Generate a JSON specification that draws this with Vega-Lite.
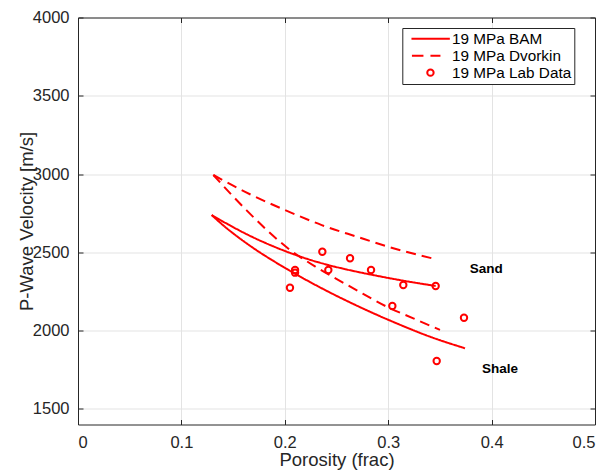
{
  "$schema": "https://vega.github.io/schema/vega-lite/v6.json",
  "autosize": "none",
  "width": 517,
  "height": 407,
  "padding": {"left": 78, "top": 17.5, "right": 14, "bottom": 46.5},
  "background": "white",
  "datasets": {
    "curves": [
      {"s": "BAM Sand", "grp": "19 MPa BAM", "x": 0.1293, "y": 2738},
      {"s": "BAM Sand", "grp": "19 MPa BAM", "x": 0.145, "y": 2679},
      {"s": "BAM Sand", "grp": "19 MPa BAM", "x": 0.163, "y": 2616},
      {"s": "BAM Sand", "grp": "19 MPa BAM", "x": 0.185, "y": 2549},
      {"s": "BAM Sand", "grp": "19 MPa BAM", "x": 0.208, "y": 2489},
      {"s": "BAM Sand", "grp": "19 MPa BAM", "x": 0.225, "y": 2451},
      {"s": "BAM Sand", "grp": "19 MPa BAM", "x": 0.242, "y": 2419},
      {"s": "BAM Sand", "grp": "19 MPa BAM", "x": 0.26, "y": 2390},
      {"s": "BAM Sand", "grp": "19 MPa BAM", "x": 0.283, "y": 2358},
      {"s": "BAM Sand", "grp": "19 MPa BAM", "x": 0.31, "y": 2324},
      {"s": "BAM Sand", "grp": "19 MPa BAM", "x": 0.3459, "y": 2285},
      {"s": "BAM Shale", "grp": "19 MPa BAM", "x": 0.1293, "y": 2738},
      {"s": "BAM Shale", "grp": "19 MPa BAM", "x": 0.1405, "y": 2672},
      {"s": "BAM Shale", "grp": "19 MPa BAM", "x": 0.1631, "y": 2557},
      {"s": "BAM Shale", "grp": "19 MPa BAM", "x": 0.1954, "y": 2419},
      {"s": "BAM Shale", "grp": "19 MPa BAM", "x": 0.2244, "y": 2310},
      {"s": "BAM Shale", "grp": "19 MPa BAM", "x": 0.2437, "y": 2243},
      {"s": "BAM Shale", "grp": "19 MPa BAM", "x": 0.2759, "y": 2140},
      {"s": "BAM Shale", "grp": "19 MPa BAM", "x": 0.3082, "y": 2046},
      {"s": "BAM Shale", "grp": "19 MPa BAM", "x": 0.3404, "y": 1961},
      {"s": "BAM Shale", "grp": "19 MPa BAM", "x": 0.3743, "y": 1887},
      {"s": "Dvorkin Sand", "grp": "19 MPa Dvorkin", "x": 0.1309, "y": 2994},
      {"s": "Dvorkin Sand", "grp": "19 MPa Dvorkin", "x": 0.1663, "y": 2871},
      {"s": "Dvorkin Sand", "grp": "19 MPa Dvorkin", "x": 0.2002, "y": 2770},
      {"s": "Dvorkin Sand", "grp": "19 MPa Dvorkin", "x": 0.2357, "y": 2674},
      {"s": "Dvorkin Sand", "grp": "19 MPa Dvorkin", "x": 0.2695, "y": 2600},
      {"s": "Dvorkin Sand", "grp": "19 MPa Dvorkin", "x": 0.3049, "y": 2526},
      {"s": "Dvorkin Sand", "grp": "19 MPa Dvorkin", "x": 0.3453, "y": 2457},
      {"s": "Dvorkin Shale", "grp": "19 MPa Dvorkin", "x": 0.1309, "y": 2994},
      {"s": "Dvorkin Shale", "grp": "19 MPa Dvorkin", "x": 0.147, "y": 2878},
      {"s": "Dvorkin Shale", "grp": "19 MPa Dvorkin", "x": 0.1631, "y": 2768},
      {"s": "Dvorkin Shale", "grp": "19 MPa Dvorkin", "x": 0.1825, "y": 2643},
      {"s": "Dvorkin Shale", "grp": "19 MPa Dvorkin", "x": 0.2018, "y": 2532},
      {"s": "Dvorkin Shale", "grp": "19 MPa Dvorkin", "x": 0.234, "y": 2391},
      {"s": "Dvorkin Shale", "grp": "19 MPa Dvorkin", "x": 0.2663, "y": 2270},
      {"s": "Dvorkin Shale", "grp": "19 MPa Dvorkin", "x": 0.2985, "y": 2153},
      {"s": "Dvorkin Shale", "grp": "19 MPa Dvorkin", "x": 0.3243, "y": 2078},
      {"s": "Dvorkin Shale", "grp": "19 MPa Dvorkin", "x": 0.3501, "y": 2004}
    ],
    "lab": [
      {"g": "19 MPa Lab Data", "x": 0.2363, "y": 2504},
      {"g": "19 MPa Lab Data", "x": 0.2631, "y": 2462},
      {"g": "19 MPa Lab Data", "x": 0.2099, "y": 2387},
      {"g": "19 MPa Lab Data", "x": 0.2099, "y": 2370},
      {"g": "19 MPa Lab Data", "x": 0.2421, "y": 2387},
      {"g": "19 MPa Lab Data", "x": 0.2834, "y": 2387},
      {"g": "19 MPa Lab Data", "x": 0.3146, "y": 2291},
      {"g": "19 MPa Lab Data", "x": 0.3459, "y": 2285},
      {"g": "19 MPa Lab Data", "x": 0.205, "y": 2274},
      {"g": "19 MPa Lab Data", "x": 0.304, "y": 2157},
      {"g": "19 MPa Lab Data", "x": 0.3733, "y": 2082},
      {"g": "19 MPa Lab Data", "x": 0.3469, "y": 1806}
    ],
    "notes": [
      {"label": "Sand", "x": 0.3949, "y": 2393},
      {"label": "Shale", "x": 0.4081, "y": 1755}
    ]
  },
  "config": {
    "view": {"stroke": null},
    "font": "Liberation Sans",
    "axis": {
      "labelFont": "Liberation Sans",
      "labelFontSize": 16.5,
      "labelColor": "#262626",
      "titleFont": "Liberation Sans",
      "titleFontSize": 18.5,
      "titleFontWeight": "normal",
      "titleColor": "#262626",
      "domainColor": "#262626",
      "domainWidth": 1,
      "tickColor": "#262626",
      "tickSize": -5,
      "tickWidth": 1,
      "gridColor": "#e3e3e3",
      "gridWidth": 1
    }
  },
  "layer": [
    {
      "data": {"name": "curves"},
      "mark": {"type": "line", "color": "#ff0000", "strokeWidth": 2, "interpolate": "monotone"},
      "encoding": {
        "x": {
          "field": "x", "type": "quantitative",
          "scale": {"domain": [0, 0.5], "nice": false, "zero": false},
          "axis": {
            "values": [0, 0.1, 0.2, 0.3, 0.4, 0.5],
            "format": "~g",
            "title": "Porosity (frac)",
            "grid": true,
            "labelPadding": 15,
            "titleY": 35,
            "titleBaseline": "middle"
          }
        },
        "y": {
          "field": "y", "type": "quantitative",
          "scale": {"domain": [1400, 4000], "nice": false, "zero": false},
          "axis": {
            "values": [1500, 2000, 2500, 3000, 3500, 4000],
            "format": "d",
            "title": "P-Wave Velocity [m/s]",
            "grid": true,
            "labelPadding": 14,
            "titleX": -52,
            "titleY": 203.5,
            "titleAngle": -90,
            "titleAlign": "center",
            "titleBaseline": "middle"
          }
        },
        "detail": {"field": "s", "type": "nominal"},
        "strokeDash": {
          "field": "grp", "type": "nominal",
          "scale": {"domain": ["19 MPa BAM", "19 MPa Dvorkin"], "range": [[1, 0], [10, 6]]},
          "legend": null
        }
      }
    },
    {
      "data": {"name": "lab"},
      "mark": {"type": "point", "filled": false, "color": "#ff0000", "strokeWidth": 2, "size": 45, "opacity": 1},
      "encoding": {
        "x": {"field": "x", "type": "quantitative", "axis": null},
        "y": {"field": "y", "type": "quantitative", "axis": null},
        "shape": {
          "field": "g", "type": "nominal",
          "scale": {
            "domain": ["19 MPa BAM", "19 MPa Dvorkin", "19 MPa Lab Data"],
            "range": [
              "M-5.66,0H5.78",
              "M-5.52,0H-2.09M0,0H2.98",
              "M-0.954,0A0.954,0.954 0 1,1 0.954,0A0.954,0.954 0 1,1 -0.954,0Z"
            ]
          },
          "legend": {
            "title": null,
            "orient": "none",
            "legendX": 324.3,
            "legendY": 10.5,
            "padding": 3,
            "strokeColor": "#262626",
            "fillColor": "white",
            "labelFont": "Liberation Sans",
            "labelFontSize": 15.3,
            "labelColor": "#000000",
            "labelOffset": 14,
            "symbolOffset": 17.5,
            "rowPadding": 1,
            "symbolSize": 45,
            "symbolStrokeColor": "#ff0000",
            "symbolFillColor": "transparent",
            "symbolStrokeWidth": 2,
            "symbolOpacity": 1,
            "labelExpr": "datum.label + '\u00a0'"
          }
        }
      }
    },
    {
      "data": {"name": "notes"},
      "mark": {"type": "text", "font": "Liberation Sans", "fontWeight": "bold", "fontSize": 13.5, "color": "#000000", "align": "center", "baseline": "middle"},
      "encoding": {
        "x": {
          "field": "x", "type": "quantitative",
          "axis": {"orient": "top", "labels": false, "title": null, "grid": false, "values": [0, 0.1, 0.2, 0.3, 0.4, 0.5]}
        },
        "y": {
          "field": "y", "type": "quantitative",
          "axis": {"orient": "right", "labels": false, "title": null, "grid": false, "values": [1500, 2000, 2500, 3000, 3500, 4000]}
        },
        "text": {"field": "label", "type": "nominal"}
      }
    }
  ],
  "resolve": {"axis": {"x": "independent", "y": "independent"}}
}
